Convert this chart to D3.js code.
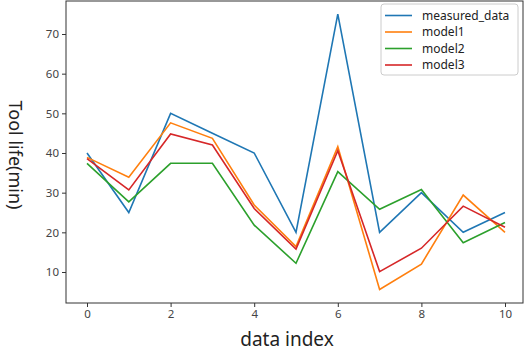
<!DOCTYPE html>
<html><head><meta charset="utf-8">
<script src="https://cdn.jsdelivr.net/npm/d3@7"></script>
<style>body{margin:0;background:#fff}svg{display:block}</style>
</head><body>
<script>
const xIndex = [0,1,2,3,4,5,6,7,8,9,10];
const measured = [40,25,50,45,40,20,75,20,30,20,25];
const model1 = [38.9,33.9,47.6,43.7,26.9,16.4,41.6,5.6,12,29.4,20];
const model2 = [37.4,27.7,37.4,37.4,21.8,12.2,35.3,25.8,30.8,17.4,22.5];
const model3 = [38.6,30.7,44.8,42.0,26.0,15.8,40.6,10.1,16,26.6,21.3];
const seriesNames = ["measured_data","model1","model2","model3"];
const colors = ["#1f77b4","#ff7f0e","#2ca02c","#d62728"];
const xTicks = [0,2,4,6,8,10];
const yTicks = [10,20,30,40,50,60,70];

const W=528,H=355;
const svg=d3.select("body").append("svg").attr("width",W).attr("height",H);
const L=66,R=523,T=1,B=303;
const x=d3.scaleLinear().domain([0,10]).range([87,505]);
const y=d3.scaleLinear().domain([10,70]).range([272,34]);
const font="'Noto Sans','Open Sans',sans-serif";

const all=[measured,model1,model2,model3];
const line=d3.line().x((d,i)=>x(xIndex[i])).y(d=>y(d));
all.forEach((s,k)=>{
  svg.append("path").attr("d",line(s)).attr("fill","none")
    .attr("stroke",colors[k]).attr("stroke-width",1.6).attr("stroke-linejoin","miter");
});

svg.append("rect").attr("x",L).attr("y",T).attr("width",R-L).attr("height",B-T)
  .attr("fill","none").attr("stroke","#333").attr("stroke-width",1);

const xa=svg.append("g").attr("transform",`translate(0,${B})`)
  .call(d3.axisBottom(x).tickValues(xTicks).tickSize(4).tickPadding(3));
const ya=svg.append("g").attr("transform",`translate(${L},0)`)
  .call(d3.axisLeft(y).tickValues(yTicks).tickSize(4).tickPadding(3));
[xa,ya].forEach(g=>{
  g.select(".domain").remove();
  g.selectAll("line").attr("stroke","#333");
  g.selectAll("text").attr("fill","#444").style("font-family",font).style("font-size","11.5px");
});

svg.append("text").attr("x",287).attr("y",346).attr("text-anchor","middle")
  .style("font-family",font).style("font-size","19px").attr("fill","#222").text("data index");
svg.append("text").attr("transform",`translate(9,155) rotate(90)`).attr("text-anchor","middle")
  .style("font-family",font).style("font-size","18px").attr("fill","#222").text("Tool life(min)");

const lg=svg.append("g");
lg.append("rect").attr("x",381).attr("y",4).attr("width",137).attr("height",71).attr("rx",3)
  .attr("fill","#fff").attr("fill-opacity",0.8).attr("stroke","#ccc");
seriesNames.forEach((n,i)=>{
  const yy=15.5+i*16.5;
  lg.append("line").attr("x1",385).attr("x2",412).attr("y1",yy).attr("y2",yy)
    .attr("stroke",colors[i]).attr("stroke-width",1.6);
  lg.append("text").attr("x",422).attr("y",yy+4).style("font-family",font).style("font-size","12px")
    .attr("fill","#222").text(n);
});
</script>
</body></html>
